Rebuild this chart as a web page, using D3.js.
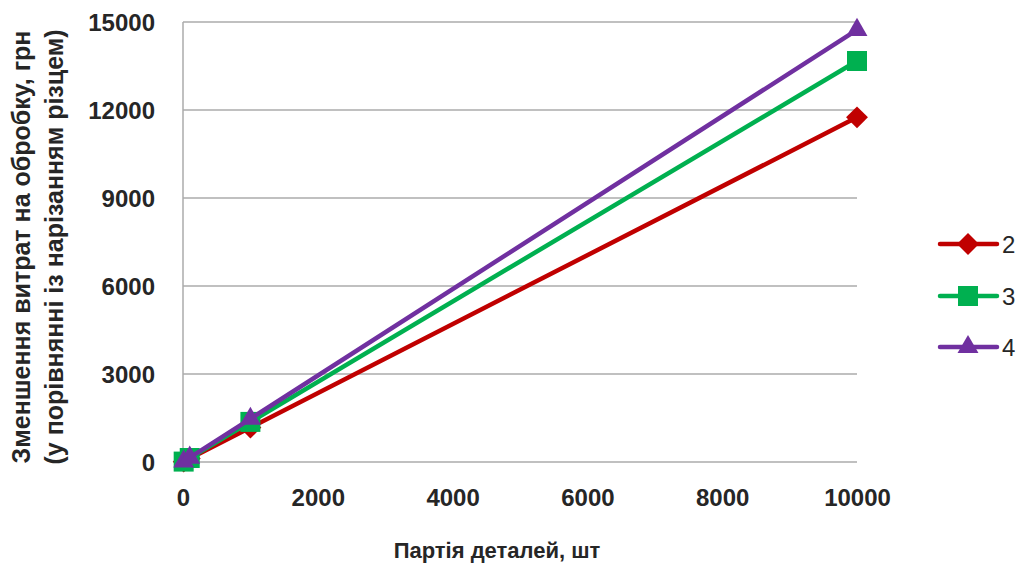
<!DOCTYPE html>
<html>
<head>
<meta charset="utf-8">
<script src="https://cdn.jsdelivr.net/npm/d3@7"></script>
<style>
  html, body { margin: 0; padding: 0; background: #fff; }
  svg { display: block; }
  text { font-family: "Liberation Sans", Arial, sans-serif; fill: #262626; }
</style>
</head>
<body>
<svg id="chart" width="1022" height="564"></svg>
<script>
// Batch size (pieces) and cost reduction for each tool variant
const batchSizes = [10, 100, 1000, 10000];
const seriesNames = ["2", "3", "4"];
const series2 = [12, 118, 1175, 11750];
const series3 = [14, 137, 1367, 13670];
const series4 = [15, 147, 1473, 14730];
const yTicks = [0, 3000, 6000, 9000, 12000, 15000];
const xTicks = [0, 2000, 4000, 6000, 8000, 10000];
const colors = ["#C00000", "#00B050", "#7030A0"];
const markerTypes = ["diamond", "square", "triangle"];

const yTitle1 = "Зменшення витрат на обробку, грн";
const yTitle2 = "(у порівнянні із нарізанням різцем)";
const xTitle = "Партія деталей, шт";

const svg = d3.select("#chart");
const plot = { left: 183, right: 857, top: 22, bottom: 462 };

const x = d3.scaleLinear().domain([0, 10000]).range([plot.left, plot.right]);
const y = d3.scaleLinear().domain([0, 15000]).range([plot.bottom, plot.top]);
const fmt = d3.format("d");

// Horizontal gridlines
svg.append("g")
  .selectAll("line")
  .data(yTicks)
  .join("line")
  .attr("x1", plot.left).attr("x2", plot.right)
  .attr("y1", d => y(d)).attr("y2", d => y(d))
  .attr("stroke", "#ABABAB").attr("stroke-width", 1.5);

// Vertical axis line
svg.append("line")
  .attr("x1", plot.left).attr("x2", plot.left)
  .attr("y1", plot.top).attr("y2", plot.bottom)
  .attr("stroke", "#ABABAB").attr("stroke-width", 1.5);

// Y tick labels
const yAxis = d3.axisLeft(y).tickValues(yTicks).tickFormat(fmt).tickSize(0).tickPadding(0);
const gy = svg.append("g").attr("transform", `translate(155,0)`).call(yAxis);
gy.select(".domain").remove();
gy.selectAll("text")
  .attr("font-size", 24).attr("font-weight", "bold")
  .attr("font-family", "Liberation Sans, Arial, sans-serif")
  .attr("fill", "#262626").attr("dy", "0.36em");

// X tick labels
const xAxis = d3.axisBottom(x).tickValues(xTicks).tickFormat(fmt).tickSize(0).tickPadding(0);
const gx = svg.append("g").attr("transform", `translate(0,497)`).call(xAxis);
gx.select(".domain").remove();
gx.selectAll("text")
  .attr("font-size", 24).attr("font-weight", "bold")
  .attr("font-family", "Liberation Sans, Arial, sans-serif")
  .attr("fill", "#262626").attr("dy", "0.36em");

// Axis titles
svg.append("text")
  .attr("x", 497).attr("y", 558)
  .attr("text-anchor", "middle")
  .attr("font-size", 22).attr("font-weight", "bold")
  .text(xTitle);

svg.append("text")
  .attr("transform", "translate(30,247) rotate(-90)")
  .attr("text-anchor", "middle")
  .attr("font-size", 25).attr("font-weight", "bold")
  .text(yTitle1);
svg.append("text")
  .attr("transform", "translate(63,247) rotate(-90)")
  .attr("text-anchor", "middle")
  .attr("font-size", 25).attr("font-weight", "bold")
  .text(yTitle2);

// Marker shapes
function markerPath(type) {
  if (type === "diamond") return d3.symbol().type(d3.symbolSquare).size(240)();
  if (type === "square") return d3.symbol().type(d3.symbolSquare).size(400)();
  return d3.symbol().type(d3.symbolTriangle).size(190)();
}
function markerTransform(type, px, py) {
  return type === "diamond" ? `translate(${px},${py}) rotate(45)` : `translate(${px},${py})`;
}

const allSeries = [series2, series3, series4];
const line = d3.line().x(d => x(d[0])).y(d => y(d[1]));

allSeries.forEach((vals, i) => {
  const pts = batchSizes.map((b, j) => [b, vals[j]]);
  const g = svg.append("g");
  g.append("path")
    .datum(pts)
    .attr("d", line)
    .attr("fill", "none")
    .attr("stroke", colors[i])
    .attr("stroke-width", 4.5)
    .attr("stroke-linejoin", "round");
  g.selectAll("path.marker")
    .data(pts)
    .join("path")
    .attr("class", "marker")
    .attr("d", markerPath(markerTypes[i]))
    .attr("transform", d => markerTransform(markerTypes[i], x(d[0]), y(d[1])))
    .attr("fill", colors[i]);
});

// Legend
const legendY = [244, 296, 347];
const legend = svg.append("g");
seriesNames.forEach((name, i) => {
  const ly = legendY[i];
  legend.append("line")
    .attr("x1", 940).attr("x2", 997)
    .attr("y1", ly).attr("y2", ly)
    .attr("stroke", colors[i]).attr("stroke-width", 4.5)
    .attr("stroke-linecap", "round");
  legend.append("path")
    .attr("d", markerPath(markerTypes[i]))
    .attr("transform", markerTransform(markerTypes[i], 968, ly))
    .attr("fill", colors[i]);
  legend.append("text")
    .attr("x", 1002).attr("y", ly).attr("dy", "0.36em")
    .attr("font-size", 24)
    .text(name);
});
</script>
</body>
</html>
